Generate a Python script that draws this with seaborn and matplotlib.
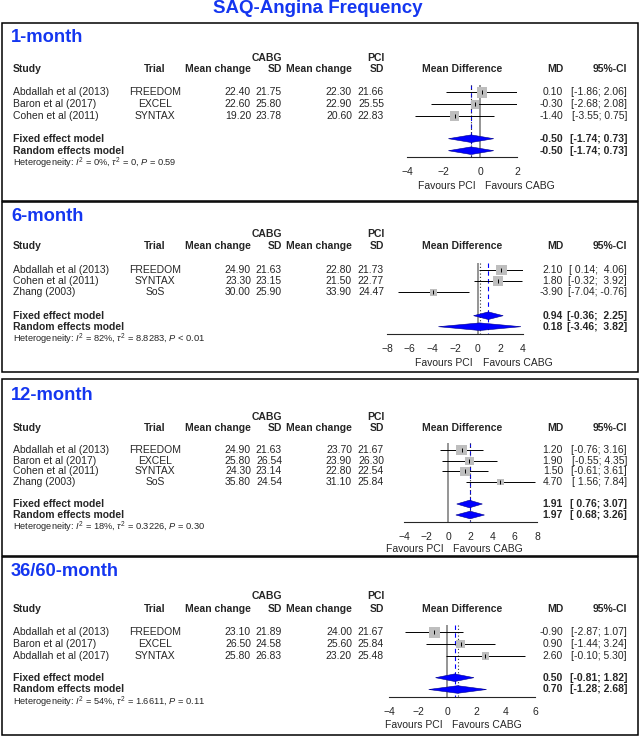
import matplotlib
matplotlib.use("Agg")
import matplotlib.pyplot as plt
from matplotlib.patches import Polygon, Rectangle
import numpy as np
import seaborn as sns

# data
periods = ["1-month", "6-month", "12-month", "36/60-month"]

studies = [
    ["Abdallah et al (2013)", "Baron et al (2017)", "Cohen et al (2011)"],
    ["Abdallah et al (2013)", "Cohen et al (2011)", "Zhang (2003)"],
    ["Abdallah et al (2013)", "Baron et al (2017)", "Cohen et al (2011)", "Zhang (2003)"],
    ["Abdallah et al (2013)", "Baron et al (2017)", "Abdallah et al (2017)"],
]
trials = [
    ["FREEDOM", "EXCEL", "SYNTAX"],
    ["FREEDOM", "SYNTAX", "SoS"],
    ["FREEDOM", "EXCEL", "SYNTAX", "SoS"],
    ["FREEDOM", "EXCEL", "SYNTAX"],
]
cabg_mean = [[22.40, 22.60, 19.20], [24.90, 23.30, 30.00],
             [24.90, 25.80, 24.30, 35.80], [23.10, 26.50, 25.80]]
cabg_sd = [[21.75, 25.80, 23.78], [21.63, 23.15, 25.90],
           [21.63, 26.54, 23.14, 24.54], [21.89, 24.58, 26.83]]
pci_mean = [[22.30, 22.90, 20.60], [22.80, 21.50, 33.90],
            [23.70, 23.90, 22.80, 31.10], [24.00, 25.60, 23.20]]
pci_sd = [[21.66, 25.55, 22.83], [21.73, 22.77, 24.47],
          [21.67, 26.30, 22.54, 25.84], [21.67, 25.84, 25.48]]
md = [[0.10, -0.30, -1.40], [2.10, 1.80, -3.90],
      [1.20, 1.90, 1.50, 4.70], [-0.90, 0.90, 2.60]]
md_lo = [[-1.86, -2.68, -3.55], [0.14, -0.32, -7.04],
         [-0.76, -0.55, -0.61, 1.56], [-2.87, -1.44, -0.10]]
md_hi = [[2.06, 2.08, 0.75], [4.06, 3.92, -0.76],
         [3.16, 4.35, 3.61, 7.84], [1.07, 3.24, 5.30]]

fixed_md = [-0.50, 0.94, 1.91, 0.50]
fixed_lo = [-1.74, -0.36, 0.76, -0.81]
fixed_hi = [0.73, 2.25, 3.07, 1.82]
random_md = [-0.50, 0.18, 1.97, 0.70]
random_lo = [-1.74, -3.46, 0.68, -1.28]
random_hi = [0.73, 3.82, 3.26, 2.68]

het_i2 = ["0%", "82%", "18%", "54%"]
het_tau2 = ["0", "8.8283", "0.3226", "1.6611"]
het_p = ["= 0.59", "< 0.01", "= 0.30", "= 0.11"]

axis_ticks = [[-4, -2, 0, 2], [-8, -6, -4, -2, 0, 2, 4],
              [-4, -2, 0, 2, 4, 6, 8], [-4, -2, 0, 2, 4, 6]]

# layout, in pixels of the 640 x 737 picture
W, H = 640, 737
panel_top = [22.7, 202.0, 379.3, 557.3]
panel_bot = [200.5, 371.7, 555.7, 735.0]
title_y = [37.7, 216.0, 395.7, 571.7]
group_y = [57.7, 234.3, 417.3, 596.0]
header_y = [69.3, 246.0, 428.3, 609.0]
row0_y = [92.3, 270.0, 450.0, 632.3]
row_step = [11.9, 11.2, 10.7, 11.7]
fixed_y = [138.7, 315.7, 504.0, 677.7]
random_y = [150.7, 326.7, 515.0, 689.5]
het_y = [163.3, 339.5, 527.0, 702.5]
axis_y = [157.0, 334.0, 521.7, 697.3]
fav_y = [185.7, 363.0, 548.5, 725.0]
axis_px = [(407, 517), (387, 523), (404, 537), (389, 535)]

BLUE_TXT = "#1436F0"
BLUE = "#0000FF"
GREY_SQ = "#BEBEBE"
FS = 7.5

sns.set_style("white")
plt.rcParams["font.family"] = ["Liberation Sans", "DejaVu Sans"]
plt.rcParams["mathtext.fontset"] = "custom"
plt.rcParams["mathtext.rm"] = "Liberation Sans"
plt.rcParams["mathtext.it"] = "Liberation Sans:italic"
plt.rcParams["mathtext.bf"] = "Liberation Sans:bold"
plt.rcParams["axes.unicode_minus"] = True

fig = plt.figure(figsize=(W / 100, H / 100), dpi=100)
base = fig.add_axes([0, 0, 1, 1])
base.set_xlim(0, W)
base.set_ylim(H, 0)
base.axis("off")

base.text(318, 8.5, "SAQ-Angina Frequency", ha="center", va="center",
          fontsize=13.5, fontweight="bold", color=BLUE_TXT)


def ci_text(lo, hi, wlo, whi):
    return "[" + f"{lo:.2f}".rjust(wlo) + "; " + f"{hi:.2f}".rjust(whi) + "]"


for p in range(4):
    top, bot = panel_top[p], panel_bot[p]
    base.add_patch(Rectangle((2, top), 635.5, bot - top, fill=False,
                             edgecolor="black", lw=1.1))
    base.text(11, title_y[p], periods[p], ha="left", va="center",
              fontsize=13.2, fontweight="bold", color=BLUE_TXT)

    # column headers
    hy = header_y[p]
    bold = dict(va="center", fontsize=FS, fontweight="bold")
    base.text(282, group_y[p], "CABG", ha="right", **bold)
    base.text(384, group_y[p], "PCI", ha="right", **bold)
    base.text(13, hy, "Study", ha="left", **bold)
    base.text(155, hy, "Trial", ha="center", **bold)
    base.text(251, hy, "Mean change", ha="right", **bold)
    base.text(282, hy, "SD", ha="right", **bold)
    base.text(352, hy, "Mean change", ha="right", **bold)
    base.text(384, hy, "SD", ha="right", **bold)
    base.text(462, hy, "Mean Difference", ha="center", **bold)
    base.text(563, hy, "MD", ha="right", **bold)
    base.text(627, hy, "95%-CI", ha="right", **bold)

    n = len(studies[p])
    rows = [row0_y[p] + i * row_step[p] for i in range(n)]
    all_lo = md_lo[p] + [fixed_lo[p], random_lo[p]]
    all_hi = md_hi[p] + [fixed_hi[p], random_hi[p]]
    wlo = max(len(f"{v:.2f}") for v in all_lo)
    whi = max(len(f"{v:.2f}") for v in all_hi)

    reg = dict(va="center", fontsize=FS)
    for i in range(n):
        y = rows[i]
        base.text(13, y, studies[p][i], ha="left", **reg)
        base.text(155, y, trials[p][i], ha="center", **reg)
        base.text(251, y, f"{cabg_mean[p][i]:.2f}", ha="right", **reg)
        base.text(282, y, f"{cabg_sd[p][i]:.2f}", ha="right", **reg)
        base.text(352, y, f"{pci_mean[p][i]:.2f}", ha="right", **reg)
        base.text(384, y, f"{pci_sd[p][i]:.2f}", ha="right", **reg)
        base.text(563, y, f"{md[p][i]:.2f}", ha="right", **reg)
        base.text(627, y, ci_text(md_lo[p][i], md_hi[p][i], wlo, whi), ha="right", **reg)

    for lab, y, m, lo, hi in [("Fixed effect model", fixed_y[p], fixed_md[p], fixed_lo[p], fixed_hi[p]),
                              ("Random effects model", random_y[p], random_md[p], random_lo[p], random_hi[p])]:
        base.text(13, y, lab, ha="left", **bold)
        base.text(563, y, f"{m:.2f}", ha="right", **bold)
        base.text(627, y, ci_text(lo, hi, wlo, whi), ha="right", **bold)

    base.text(13, het_y[p],
              "Heterogeneity: $I^2$ = " + het_i2[p]
              + r", $\tau^2$ = " + het_tau2[p] + ", $P$ " + het_p[p],
              ha="left", va="center", fontsize=6.7)

    # forest part
    x0, x1 = axis_px[p]
    ticks = axis_ticks[p]
    ax = fig.add_axes([x0 / W, 1 - axis_y[p] / H, (x1 - x0) / W, (axis_y[p] - top) / H])
    ax.set_facecolor("none")
    ax.set_xlim(ticks[0], ticks[-1])
    ax.set_ylim(axis_y[p], top)
    for s in ["top", "left", "right"]:
        ax.spines[s].set_visible(False)
    ax.spines["bottom"].set_linewidth(0.8)
    ax.spines["bottom"].set_bounds(ticks[0], ticks[-1])
    ax.set_xticks(ticks)
    ax.set_xticklabels([f"{t}".replace("-", "\u2212") for t in ticks])
    ax.set_yticks([])
    ax.tick_params(axis="x", direction="out", length=4.3, width=0.8, pad=3,
                   labelsize=FS, color="black")
    ax.grid(False)

    ytop = rows[0] - 7
    ax.vlines(0, ytop, axis_y[p], color="#8C8C8C", lw=1.3, zorder=1)
    ax.vlines(fixed_md[p], ytop, axis_y[p], color=BLUE, lw=0.8,
              linestyles=(0, (4, 3)), zorder=2)
    ax.vlines(random_md[p], ytop, axis_y[p], color="#333333", lw=0.8,
              linestyles=(0, (1, 2)), zorder=2)

    # squares sized by inverse-variance weight
    se = (np.array(md_hi[p]) - np.array(md_lo[p])) / (2 * 1.96)
    w = 1 / se ** 2
    side_px = 10.5 * np.sqrt(w / w.max())
    ax.hlines(rows, md_lo[p], md_hi[p], color="black", lw=0.7, zorder=3)
    sns.scatterplot(x=md[p], y=rows, ax=ax, marker="s", color=GREY_SQ,
                    s=(side_px * 0.72) ** 2, linewidth=0, zorder=4, legend=False)
    ax.scatter(md[p], rows, marker="|", s=6, color="black", linewidths=0.7, zorder=5)

    for y, m, lo, hi in [(fixed_y[p], fixed_md[p], fixed_lo[p], fixed_hi[p]),
                         (random_y[p], random_md[p], random_lo[p], random_hi[p])]:
        dh = 3.8
        ax.add_patch(Polygon([(lo, y), (m, y - dh), (hi, y), (m, y + dh)],
                             closed=True, facecolor=BLUE, edgecolor="#00008B",
                             lw=0.4, zorder=6, clip_on=False))
    ax.set_xlabel("")
    ax.set_ylabel("")

    # the two "favours" labels sit either side of the zero line
    zx = x0 + (0 - ticks[0]) / (ticks[-1] - ticks[0]) * (x1 - x0)
    base.text(zx - 5, fav_y[p], "Favours PCI", ha="right", va="center", fontsize=FS)
    base.text(zx + 5, fav_y[p], "Favours CABG", ha="left", va="center", fontsize=FS)

fig.savefig("out.png", dpi=100)
